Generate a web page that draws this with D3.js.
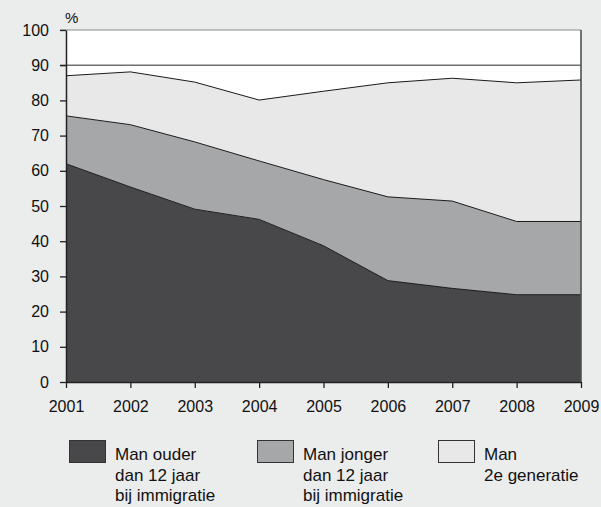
<!DOCTYPE html>
<html><head><meta charset="utf-8">
<script src="https://cdn.jsdelivr.net/npm/d3@7"></script>
<style>
html,body{margin:0;padding:0;background:#ebecec;}
svg{display:block;font-family:"Liberation Sans",Arial,Helvetica,sans-serif;}
</style></head>
<body>
<svg id="chart" width="601" height="507"></svg>
<script>
const years = [2001, 2002, 2003, 2004, 2005, 2006, 2007, 2008, 2009];
const ouder = [62.0, 55.4, 49.1, 46.2, 38.7, 28.8, 26.6, 24.8, 24.8];
const jonger = [13.6, 17.7, 19.1, 16.6, 18.8, 23.8, 24.8, 20.8, 20.8];
const tweedeGen = [11.4, 15.0, 17.0, 17.3, 25.1, 32.4, 34.9, 39.4, 40.2];
const yTicks = [0, 10, 20, 30, 40, 50, 60, 70, 80, 90, 100];
const seriesKeys = ["ouder", "jonger", "tweedeGen"];
const legendLabels = [
  ["Man ouder", "dan 12 jaar", "bij immigratie"],
  ["Man jonger", "dan 12 jaar", "bij immigratie"],
  ["Man", "2e generatie"]
];
const colors = ["#48484a", "#a6a7a9", "#e8e8e8"];

const svg = d3.select("#chart");
const L = 66, R = 581, T = 30, B = 382;
const x = d3.scaleLinear().domain([2001, 2009]).range([L, R]);
const y = d3.scaleLinear().domain([0, 100]).range([B, T]);

const table = years.map((yr, i) => ({year: yr, ouder: ouder[i], jonger: jonger[i], tweedeGen: tweedeGen[i]}));
const stacked = d3.stack().keys(seriesKeys)(table);

svg.append("rect").attr("x", L).attr("y", T).attr("width", R - L).attr("height", B - T).attr("fill", "#ffffff");

const area = d3.area().x(d => x(d.data.year)).y0(d => y(d[0])).y1(d => y(d[1]));
const topLine = d3.line().x(d => x(d.data.year)).y(d => y(d[1]));

svg.selectAll("path.area").data(stacked).join("path")
  .attr("class", "area")
  .attr("d", area)
  .attr("fill", (d, i) => colors[i]);

svg.selectAll("path.edge").data(stacked).join("path")
  .attr("class", "edge")
  .attr("d", topLine)
  .attr("fill", "none")
  .attr("stroke", "#1a1a1a")
  .attr("stroke-width", 1);

svg.append("line").attr("x1", L - 6).attr("x2", R).attr("y1", y(100)).attr("y2", y(100))
  .attr("stroke", "#8a8a8a").attr("stroke-width", 1.2);
svg.append("line").attr("x1", L - 6).attr("x2", R).attr("y1", y(90)).attr("y2", y(90))
  .attr("stroke", "#707070").attr("stroke-width", 1.6);

svg.append("line").attr("x1", R).attr("x2", R).attr("y1", T).attr("y2", B)
  .attr("stroke", "#505050").attr("stroke-width", 1.6);

const yAxis = svg.append("g").attr("transform", `translate(${L},0)`)
  .call(d3.axisLeft(y).tickValues(yTicks).tickSize(6).tickPadding(11).tickSizeOuter(0));
const xAxis = svg.append("g").attr("transform", `translate(0,${B})`)
  .call(d3.axisBottom(x).tickValues(years).tickFormat(d3.format("d")).tickSize(6).tickPadding(13).tickSizeOuter(0));
[yAxis, xAxis].forEach(g => {
  g.select(".domain").attr("stroke", "#222").attr("stroke-width", 1.5);
  g.selectAll(".tick line").attr("stroke", "#222").attr("stroke-width", 1.3);
  g.selectAll("text").attr("font-size", 16).attr("fill", "#111")
    .attr("font-family", "\"Liberation Sans\",Arial,sans-serif");
});

svg.append("text").attr("x", 65).attr("y", 23).attr("font-size", 15).attr("fill", "#111").text("%");

const legendX = [69, 257, 438];
legendLabels.forEach((lines, i) => {
  const g = svg.append("g");
  g.append("rect").attr("x", legendX[i] + 0.5).attr("y", 440.5).attr("width", 36).attr("height", 22)
    .attr("fill", colors[i]).attr("stroke", "#333").attr("stroke-width", 1);
  lines.forEach((t, j) => {
    g.append("text").attr("x", legendX[i] + 46).attr("y", 460 + j * 20.5)
      .attr("font-size", 17).attr("fill", "#111").text(t);
  });
});
</script>
</body></html>
